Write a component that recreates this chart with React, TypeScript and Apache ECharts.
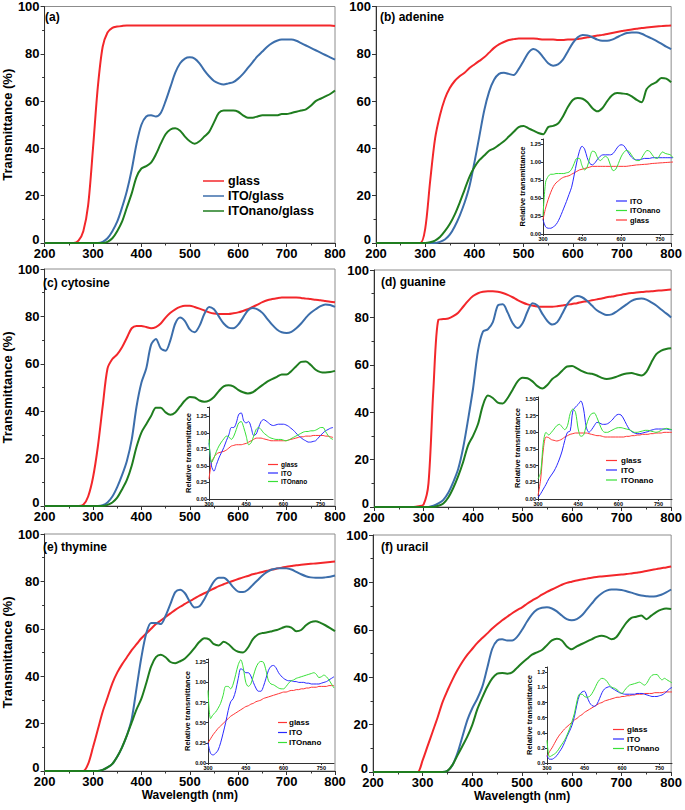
import React, { useEffect, useRef } from 'react';
import * as echarts from 'echarts';

const FONT = '"Liberation Sans", Arial, Helvetica, sans-serif';

// Wavelength samples (nm)
const MAIN_WL = [200,210,220,230,240,250,260,270,280,290,300,310,320,330,340,350,360,370,380,390,400,410,420,430,440,450,460,470,480,490,500,510,520,530,540,550,560,570,580,590,600,610,620,630,640,650,660,670,680,690,700,710,720,730,740,750,760,770,780,790,800];
const INSET_WL = [300,310,320,330,340,350,360,370,380,390,400,410,420,430,440,450,460,470,480,490,500,510,520,530,540,550,560,570,580,590,600,610,620,630,640,650,660,670,680,690,700,710,720,730,740,750,760,770,780,790,800];

// X / Y tick settings
const MAIN_X_TICKS = [200, 800, 100];
const MAIN_Y_TICKS = [0, 100, 20];

// (a)
const A_GLASS = [0,0,0,0,0,0,0,1,5,16, 40,66,83,89,91,91.5,91.8,92,92,92, 92,92,92,92,92,92,92,92,92,92, 92,92,92,92,92,92,92,92,92,92, 92,92,92,92,92,92,92,92,92,92, 92,92,92,92,92,92,92,92,92,92, 91.8];
const A_ITO = [0,0,0,0,0,0,0,0,0,0, 0,0,0.5,2,5,9,15,22,31,42, 50,53.5,54,53.5,55,60,66,72,76,78, 78.5,78,76,73,70.5,68.5,67.5,67,67.5,68, 69.5,71.5,74,76.5,79,81,83,84.5,85.5,86, 86,86,85.5,84.5,83.5,82.5,81.5,80.5,79.5,78.5, 77.5];
const A_NANO = [0,0,0,0,0,0,0,0,0,0, 0,0,0,0.5,2,5,9,15,21,28, 31.5,32.5,34,37.5,42,46,48,48.5,47.5,45, 43,42,43,45,47,51,55,56,56,56, 55.5,54,53,53,53.5,54,54,54,54,54.5, 54.5,55,55.5,56,56.5,58,60,61,62,63, 64.5];

// (b) adenine
const B_GLASS = [0,0,0,0,0,0,0,0,0,0, 6,26,44,54,61,65.5,68.5,70.5,72,74, 75.5,77,78.5,80.5,82.5,84,85,85.8,86.2,86.5, 86.5,86.5,86.5,86.3,86,86,86,85.8,85.8,86, 86,86.3,86.6,87,87.3,87.7,88,88.4,88.8,89.2, 89.6,90,90.3,90.6,90.9,91.1,91.3,91.5,91.7,91.9, 92];
const B_ITO = [0,0,0,0,0,0,0,0,0,0, 0,0,0,0.5,1.5,3.5,7,11.5,17,24, 34,45,56,64,69,71.5,72,71.5,71,73.5, 77,80.5,82,81,78.5,76,75,75.5,77.5,81, 84.5,87,88,87.8,87,86,85.5,85.5,86,87, 88,88.8,89,89,88.5,87.5,86.5,85.5,84.3,83, 82];
const B_NANO = [0,0,0,0,0,0,0,0,0,0, 0,0.3,1,2.5,5,8,12,17,22.5,28, 32,35,37,39,40,41.5,43,45,47,49, 49.5,48.5,47.5,46.5,46,49,49.5,50.5,53.5,57.5, 60.5,61.3,61,59.5,57,55.7,57,60,62.5,63.4, 63.2,63,62,60.5,59.5,65,67,68,69.8,69.5, 68];

// (c) cytosine
const C_GLASS = [0,0,0,0,0,0,0,0,0.5,4, 12,25,42,58,62,64,67,71,75,76, 76,75.5,75,75.5,77,79.5,81.5,83,84,84.5, 84.5,84,83.3,82.5,81.7,81.2,81,81,81,81.3, 81.7,82.3,83,84,85,86,86.8,87.3,87.7,88, 88,88,88,87.8,87.5,87.3,87,86.8,86.5,86.2, 86];
const C_ITO = [0,0,0,0,0,0,0,0,0,0, 0,0,0.3,1.5,4,8,13,19,28,42, 52,58,68,70.5,66.5,65.5,70,77,79.5,78, 74.5,73.3,76,81,84,83,80,77,75.3,75, 76.5,79.5,82.5,83.5,83,81.5,79,76.5,74.5,73.3, 73,73.5,75,77,79.5,81.5,83,84.3,85,84.8, 84];
const C_NANO = [0,0,0,0,0,0,0,0,0,0, 0,0,0,0.5,1.5,3.5,7,11,17,25, 31,34.5,38,41.5,41.5,39.5,38.5,39.5,42,44.5, 46,45.8,44.5,44,44.5,46,48.5,50.5,51,50.5, 49,48,47.5,48,49.5,51,52.5,53.5,54.5,55.5, 55.5,57,59,60.8,61,59.5,57.5,56.5,56.3,56.5, 57];

// (d) guanine
const D_GLASS = [0,0,0,0,0,0,0,0,0,0.3, 1,10,50,79,79.3,79.5,80.5,82,84.5,87, 89,90.2,90.8,91,91,90.8,90.3,89.5,88.5,87.3, 86.3,85.5,85,84.6,84.5,84.5,84.5,84.7,85,85.3, 85.7,86,86.5,86.8,87.2,87.6,88,88.5,88.8,89.2, 89.6,90,90.3,90.5,90.7,90.9,91,91.2,91.4,91.6, 91.8];
const D_ITO = [0,0,0,0,0,0,0,0,0,0, 0,0,0.5,1.5,3,6,10.5,16,25,37, 50,66,74,75,78,85,85.5,82,77.5,75.5, 77.5,82.5,86,85,81.5,78.5,77,78,81.5,85.5, 88,89,88.5,87,85,83,81.8,81,81.3,82.5, 84,85.5,87,87.8,88,87.5,86.3,85,83.3,81.7, 80];
const D_NANO = [0,0,0,0,0,0,0,0,0,0, 0,0,0,0.5,1.5,4,8,13,19,26, 30,35,43,47,46,44,43.7,46,49.5,53, 54.5,54.3,53,51,50,51.5,54,55.5,57.5,59.3, 59.5,58.5,57.3,56.5,56.2,55.5,54.5,54,54.3,55, 55.8,56.3,56.5,56,55.5,57,61,64.5,66,66.7, 67];

// (e) thymine
const E_GLASS = [0,0,0,0,0,0,0,0,0,3, 10,17.5,25,31,37,41.5,45,48,51,53.5, 56,58,60,62,63.5,65,66.5,68,69.3,70.5, 71.7,72.8,74,75,76,77,78,78.8,79.6,80.3, 81,81.7,82.3,83,83.5,84,84.5,85,85.4,85.8, 86.2,86.5,86.8,87,87.2,87.4,87.6,87.8,88,88.2, 88.4];
const E_ITO = [0,0,0,0,0,0,0,0,0,0, 0,0,0.5,1.5,3,6,10,15,22,35, 48,58,62.5,62.5,62,65.5,70.5,75.5,76.5,75, 71.5,69,69.5,72.5,76.5,80,81.5,81.5,80,77.5, 75.7,75.5,76.5,78.5,80.5,82.5,84,85,85.5,85.6, 85.5,85,84,83,82.2,81.7,81.5,81.5,81.7,82, 82.5];
const E_NANO = [0,0,0,0,0,0,0,0,0,0, 0,0,0.5,1.5,3,6,10,15,20.5,26, 30.5,37,44,48,49,48,46,45.5,46.3,47.5, 49.5,52,54.5,56,55.5,53.5,53,54.5,53.5,51.5, 50.3,50,52,55.5,57.5,58.2,58.5,59,59.5,60.3, 61,60.5,59,59.5,61.5,62.8,63.2,62.5,61.5,60.3, 59];

// (f) uracil
const F_GLASS = [0,0,0,0,0,0,0,0,0,0, 5,11,17,23,29.5,34.5,39,43,46.5,49.5, 52,54.5,56.5,58.5,60.5,62.3,64,65.5,67,68.3, 69.5,71,72.3,73.5,74.8,76,77,78,79,79.8, 80.3,80.8,81.2,81.6,82,82.3,82.5,82.7,82.9,83.1, 83.3,83.5,83.8,84.1,84.4,84.8,85.2,85.6,86,86.3, 86.7];
const F_ITO = [0,0,0,0,0,0,0,0,0,0, 0,0,0,0,0,0.5,3,8,15,22, 27,31,36,44,52,55.5,56,55.5,55.5,57, 60,63.5,66.5,68.5,69.3,69.5,69,67.8,66,64.5, 64,64.5,66,68.5,71,73.5,75.3,76.5,77,77, 76.8,76.3,75.7,75,74.5,74.2,74,74.2,74.8,75.8, 77];
const F_NANO = [0,0,0,0,0,0,0,0,0,0, 0,0,0,0,0,0.5,3,7,11,15, 20,26.5,31.5,36,39.5,41.5,41.8,41.5,42,44, 46,47.8,49.5,50.5,51.5,53.5,55.5,56.2,55.5,53, 51.8,53,54,55,56,57,57.5,57,56,57, 60,63,65,65.5,66,64.5,66,67.5,68.5,69, 68.8];

// Insets: relative transmittance
const IB_GLASS = [0.2,0.36,0.48,0.58,0.66,0.71,0.74,0.77,0.79,0.8, 0.81,0.83,0.85,0.87,0.89,0.9,0.91,0.92,0.93,0.94, 0.94,0.94,0.94,0.94,0.94,0.94,0.94,0.94,0.94,0.94, 0.94,0.94,0.94,0.945,0.95,0.955,0.96,0.962,0.965,0.968, 0.97,0.975,0.98,0.982,0.985,0.988,0.99,0.993,0.995,0.998, 1.0];
const IB_ITO = [0.2,0.1,0.08,0.08,0.1,0.13,0.19,0.27,0.36,0.45, 0.55,0.65,0.82,1.0,1.15,1.22,1.18,1.06,0.98,0.96, 0.99,1.04,1.08,1.1,1.1,1.1,1.1,1.12,1.17,1.22, 1.24,1.23,1.18,1.12,1.07,1.04,1.03,1.03,1.04,1.05, 1.05,1.05,1.06,1.06,1.06,1.06,1.06,1.06,1.06,1.06, 1.06];
const IB_NANO = [0.25,0.72,0.8,0.83,0.83,0.84,0.84,0.84,0.84,0.85, 0.86,0.9,0.98,1.05,1.05,0.95,0.89,0.93,1.06,1.15, 1.14,1.06,1.02,1.05,1.08,1.05,0.95,0.88,0.9,0.98, 1.07,1.13,1.16,1.15,1.1,1.05,1.02,1.02,1.06,1.12, 1.16,1.15,1.1,1.06,1.05,1.1,1.14,1.12,1.11,1.1, 1.06];

const IC_GLASS = [0.3,0.55,0.63,0.68,0.7,0.71,0.72,0.74,0.77,0.8, 0.81,0.82,0.82,0.82,0.83,0.84,0.86,0.88,0.9,0.92, 0.92,0.92,0.91,0.9,0.89,0.88,0.88,0.88,0.88,0.88, 0.88,0.88,0.89,0.9,0.91,0.92,0.93,0.94,0.94,0.95, 0.95,0.95,0.96,0.96,0.96,0.96,0.96,0.95,0.95,0.94, 0.93];
const IC_ITO = [0.85,0.5,0.42,0.52,0.62,0.7,0.78,0.88,0.97,1.08, 1.08,1.15,1.28,1.3,1.18,1.15,1.17,1.08,0.96,0.98, 1.08,1.17,1.2,1.18,1.15,1.12,1.11,1.12,1.13,1.13, 1.13,1.12,1.1,1.07,1.04,1.0,0.96,0.93,0.9,0.88, 0.86,0.86,0.87,0.88,0.92,0.96,1.0,1.03,1.05,1.07, 1.08];
const IC_NANO = [0.9,0.55,0.62,0.72,0.8,0.86,0.91,0.95,0.94,0.9, 0.95,1.05,1.15,1.17,1.08,0.95,0.82,0.85,0.95,1.05, 1.08,1.05,1.0,0.97,0.94,0.92,0.91,0.9,0.9,0.9, 0.89,0.88,0.89,0.91,0.93,0.95,0.97,0.99,1.01,1.02, 1.02,1.03,1.03,1.04,1.06,1.08,1.08,1.02,0.96,0.92, 0.9];

const ID_GLASS = [0.05,0.3,0.75,0.93,0.92,0.89,0.88,0.87,0.88,0.9, 0.93,0.95,0.97,0.98,0.99,0.99,0.99,0.99,0.99,0.98, 0.97,0.96,0.95,0.95,0.94,0.93,0.93,0.93,0.93,0.93, 0.93,0.93,0.93,0.94,0.94,0.95,0.95,0.96,0.96,0.97, 0.97,0.97,0.98,0.98,0.99,0.99,0.99,1.0,1.0,1.0, 1.0];
const ID_ITO = [0.02,0.08,0.15,0.22,0.3,0.36,0.42,0.5,0.6,0.72, 0.88,1.0,1.02,1.32,1.38,1.42,1.47,1.35,1.08,1.0, 1.04,1.1,1.15,1.14,1.12,1.12,1.13,1.16,1.2,1.25, 1.27,1.26,1.2,1.12,1.05,1.01,0.99,0.98,0.98,0.99, 1.0,1.01,1.03,1.04,1.05,1.05,1.05,1.05,1.05,1.04, 1.04];
const ID_NANO = [0.3,0.4,0.85,1.0,0.96,1.0,1.05,1.1,1.12,1.08, 1.04,1.1,1.28,1.35,1.3,1.05,0.94,0.96,1.1,1.22, 1.28,1.29,1.22,1.12,1.03,1.0,1.0,1.02,1.04,1.06, 1.07,1.07,1.06,1.05,1.04,1.02,1.0,1.0,1.01,1.02, 1.03,1.03,1.02,1.01,1.0,1.01,1.03,1.05,1.06,1.05, 1.04];

const IE_GLASS = [0.25,0.3,0.35,0.39,0.43,0.46,0.49,0.52,0.55,0.58, 0.6,0.62,0.64,0.66,0.68,0.7,0.71,0.73,0.74,0.76, 0.77,0.78,0.8,0.81,0.82,0.83,0.84,0.85,0.86,0.87, 0.88,0.88,0.89,0.9,0.9,0.91,0.91,0.92,0.92,0.93, 0.93,0.94,0.94,0.94,0.95,0.95,0.95,0.95,0.96,0.96, 0.96];
const IE_ITO = [0.25,0.12,0.1,0.12,0.16,0.25,0.37,0.5,0.65,0.76, 0.8,0.9,1.05,1.17,1.15,1.12,1.12,1.08,1.0,0.93, 0.89,0.89,0.95,1.05,1.15,1.2,1.21,1.18,1.12,1.08, 1.05,1.03,1.02,1.02,1.01,1.01,1.0,1.0,1.0,0.99, 0.99,0.98,0.98,0.98,0.98,0.99,1.0,1.01,1.03,1.05, 1.07];
const IE_NANO = [0.9,0.55,0.6,0.63,0.68,0.74,0.84,0.95,0.95,0.92, 0.98,1.1,1.22,1.28,1.18,1.0,0.95,0.98,1.08,1.18, 1.24,1.26,1.25,1.15,1.02,0.98,0.97,0.95,0.93,0.92, 0.92,0.95,0.99,1.02,1.03,1.05,1.06,1.07,1.08,1.09, 1.1,1.11,1.12,1.1,1.06,1.07,1.09,1.07,1.03,0.98, 0.93];

const IF_GLASS = [0.08,0.15,0.2,0.26,0.32,0.37,0.41,0.45,0.48,0.51, 0.54,0.57,0.59,0.62,0.64,0.67,0.69,0.71,0.73,0.75, 0.77,0.79,0.8,0.82,0.83,0.84,0.85,0.86,0.87,0.87, 0.88,0.88,0.89,0.89,0.9,0.9,0.91,0.91,0.91,0.92, 0.92,0.92,0.92,0.93,0.93,0.93,0.93,0.94,0.94,0.94, 0.94];
const IF_ITO = [0.1,0.05,0.05,0.07,0.1,0.15,0.2,0.27,0.35,0.42, 0.5,0.62,0.78,0.9,0.94,0.95,0.88,0.8,0.76,0.75, 0.78,0.85,0.93,0.98,1.0,1.01,0.99,0.97,0.95,0.93, 0.92,0.91,0.91,0.91,0.91,0.91,0.92,0.92,0.92,0.91, 0.9,0.89,0.88,0.88,0.88,0.89,0.9,0.92,0.95,0.98, 1.0];
const IF_NANO = [0.3,0.08,0.1,0.12,0.15,0.2,0.25,0.3,0.37,0.45, 0.55,0.66,0.82,0.91,0.91,0.88,0.87,0.88,0.92,0.98, 1.05,1.1,1.12,1.11,1.08,1.03,1.0,0.99,0.97,0.94, 0.92,0.96,1.0,1.03,1.04,1.05,1.06,1.07,1.05,1.03, 1.06,1.12,1.16,1.17,1.17,1.13,1.1,1.12,1.1,1.08, 1.06];

const MAIN_NAMES = ['glass', 'ITO/glass', 'ITOnano/glass'];
const INSET_NAMES = ['glass', 'ITO', 'ITOnano'];
const MAIN_COLORS = ['#f3272b', '#3c6eab', '#1f7d1f'];
const INSET_COLORS = ['#ff3535', '#2a2aff', '#38e038'];

type Inset = {
  grid: { left: number; top: number; width: number; height: number };
  ymax: number; yint: number; digits: number;
  data: number[][];
  order: string[];
  legend: { x1: number; x2: number; tx: number; ys: number[]; fs: number };
};
type Panel = {
  title: string; tx: number; ty: number;
  grid: { left: number; top: number; width: number; height: number };
  yName: boolean; xName: boolean;
  data: number[][];
  inset: Inset | null;
};

const PANELS: Panel[] = [
  { title: '(a)', tx: 45, ty: 17, grid: { left: 36, top: 6, width: 299, height: 237 }, yName: true, xName: false,
    data: [A_GLASS, A_ITO, A_NANO], inset: null },
  { title: '(b) adenine', tx: 380, ty: 17, grid: { left: 376, top: 6, width: 299, height: 237 }, yName: false, xName: false,
    data: [B_GLASS, B_ITO, B_NANO],
    inset: { grid: { left: 543, top: 139, width: 130, height: 95 }, ymax: 1.32, yint: 0.25, digits: 2,
      data: [IB_GLASS, IB_ITO, IB_NANO], order: ['ITO', 'ITOnano', 'glass'],
      legend: { x1: 616, x2: 627, tx: 630, ys: [201, 210.5, 220], fs: 7.5 } } },
  { title: '(c) cytosine', tx: 43, ty: 283, grid: { left: 36, top: 269, width: 299, height: 237 }, yName: true, xName: false,
    data: [C_GLASS, C_ITO, C_NANO],
    inset: { grid: { left: 209, top: 407, width: 124, height: 92 }, ymax: 1.39, yint: 0.25, digits: 2,
      data: [IC_GLASS, IC_ITO, IC_NANO], order: ['glass', 'ITO', 'ITOnano'],
      legend: { x1: 268, x2: 278, tx: 281, ys: [464.5, 473, 481.5], fs: 6.5 } } },
  { title: '(d) guanine', tx: 381, ty: 282, grid: { left: 374, top: 270, width: 299, height: 237 }, yName: false, xName: false,
    data: [D_GLASS, D_ITO, D_NANO],
    inset: { grid: { left: 538, top: 397, width: 134, height: 102 }, ymax: 1.53, yint: 0.25, digits: 2,
      data: [ID_GLASS, ID_ITO, ID_NANO], order: ['glass', 'ITO', 'ITOnano'],
      legend: { x1: 606, x2: 617, tx: 621, ys: [460.5, 470, 480], fs: 8 } } },
  { title: '(e) thymine', tx: 43, ty: 547, grid: { left: 36, top: 534, width: 299, height: 237 }, yName: true, xName: true,
    data: [E_GLASS, E_ITO, E_NANO],
    inset: { grid: { left: 208, top: 659, width: 126, height: 104 }, ymax: 1.29, yint: 0.25, digits: 2,
      data: [IE_GLASS, IE_ITO, IE_NANO], order: ['glass', 'ITO', 'ITOnano'],
      legend: { x1: 278, x2: 287, tx: 289, ys: [722.5, 732.5, 742.5], fs: 8 } } },
  { title: '(f) uracil', tx: 381, ty: 547, grid: { left: 373, top: 535, width: 300, height: 237 }, yName: false, xName: true,
    data: [F_GLASS, F_ITO, F_NANO],
    inset: { grid: { left: 547, top: 667, width: 125, height: 96 }, ymax: 1.27, yint: 0.2, digits: 1,
      data: [IF_GLASS, IF_ITO, IF_NANO], order: ['glass', 'ITO', 'ITOnano'],
      legend: { x1: 613, x2: 624, tx: 627, ys: [729.5, 739, 748.5], fs: 8 } } },
];

const zip = (xs: number[], ys: number[]) => xs.map((x, i) => [x, ys[i]]);

function buildOption() {
  const grid: any[] = [];
  const xAxis: any[] = [];
  const yAxis: any[] = [];
  const series: any[] = [];
  const graphic: any[] = [];
  const axisColor = '#333';
  const labelBase = { fontSize: 13, fontWeight: 'bold', color: '#000', fontFamily: FONT };

  PANELS.forEach((p) => {
    const gi = grid.length;
    grid.push({ ...p.grid, show: true, borderColor: '#8c8c8c', borderWidth: 1, backgroundColor: 'transparent' });
    xAxis.push({
      gridIndex: gi, type: 'value', min: MAIN_X_TICKS[0], max: MAIN_X_TICKS[1], interval: MAIN_X_TICKS[2],
      axisLine: { show: true, onZero: false, lineStyle: { color: axisColor, width: 1 } },
      axisTick: { show: true, length: 4, lineStyle: { color: axisColor } },
      minorTick: { show: true, splitNumber: 2, length: 2.5, lineStyle: { color: axisColor } },
      splitLine: { show: false },
      axisLabel: { ...labelBase, margin: 4 },
      name: p.xName ? 'Wavelength (nm)' : '', nameLocation: 'middle', nameGap: 17,
      nameTextStyle: { fontSize: 12, fontWeight: 'bold', color: '#000', fontFamily: FONT },
    });
    yAxis.push({
      gridIndex: gi, type: 'value', min: MAIN_Y_TICKS[0], max: MAIN_Y_TICKS[1], interval: MAIN_Y_TICKS[2],
      axisLine: { show: true, onZero: false, lineStyle: { color: axisColor, width: 1 } },
      axisTick: { show: true, length: 4, lineStyle: { color: axisColor } },
      minorTick: { show: true, splitNumber: 2, length: 2.5, lineStyle: { color: axisColor } },
      splitLine: { show: false },
      axisLabel: {
        ...labelBase, margin: 5,
        formatter: (v: number) => (v === 0 ? '{z|0}' : String(v)),
        rich: { z: { ...labelBase, padding: [0, 0, 8, 0] } },
      },
      name: p.yName ? 'Transmittance (%)' : '', nameLocation: 'middle', nameGap: 22,
      nameTextStyle: { fontSize: 13, fontWeight: 'bold', color: '#000', fontFamily: FONT },
    });
    p.data.forEach((vals, k) => {
      series.push({
        type: 'line', name: MAIN_NAMES[k], xAxisIndex: gi, yAxisIndex: gi,
        data: zip(MAIN_WL, vals), showSymbol: false, symbol: 'none', smooth: 0.3,
        lineStyle: { color: MAIN_COLORS[k], width: 2 }, itemStyle: { color: MAIN_COLORS[k] },
        z: 3 + k, silent: true,
      });
    });
    graphic.push({ type: 'text', x: p.tx, y: p.ty, z: 20,
      style: { text: p.title, fill: '#000', fontSize: 12, fontWeight: 'bold', fontFamily: FONT, verticalAlign: 'middle' } });

    if (p.inset) {
      const ins = p.inset;
      const ii = grid.length;
      grid.push({ ...ins.grid, show: false });
      xAxis.push({
        gridIndex: ii, type: 'value', min: 300, max: 800, interval: 150,
        axisLine: { show: true, onZero: false, lineStyle: { color: axisColor, width: 1 } },
        axisTick: { show: true, length: 2, lineStyle: { color: axisColor } },
        splitLine: { show: false },
        axisLabel: { fontSize: 5.5, fontWeight: 'bold', color: '#000', margin: 2, fontFamily: FONT, showMaxLabel: false },
      });
      yAxis.push({
        gridIndex: ii, type: 'value', min: 0, max: ins.ymax, interval: ins.yint,
        axisLine: { show: true, onZero: false, lineStyle: { color: axisColor, width: 1 } },
        axisTick: { show: true, length: 2, lineStyle: { color: axisColor } },
        splitLine: { show: false },
        axisLabel: {
          fontSize: 5.5, fontWeight: 'bold', color: '#000', margin: 2, fontFamily: FONT,
          formatter: (v: number) => {
            const r = v / ins.yint;
            return Math.abs(r - Math.round(r)) < 1e-6 ? v.toFixed(ins.digits) : '';
          },
        },
        name: 'Relative transmittance', nameLocation: 'middle', nameGap: 14,
        nameTextStyle: { fontSize: 7.5, fontWeight: 'bold', color: '#000', fontFamily: FONT },
      });
      ins.data.forEach((vals, k) => {
        series.push({
          type: 'line', name: INSET_NAMES[k], xAxisIndex: ii, yAxisIndex: ii,
          data: zip(INSET_WL, vals), showSymbol: false, symbol: 'none', smooth: 0.3,
          lineStyle: { color: INSET_COLORS[k], width: 1 }, itemStyle: { color: INSET_COLORS[k] },
          z: 10 + k, silent: true,
        });
      });
      ins.order.forEach((nm, r) => {
        const k = INSET_NAMES.indexOf(nm);
        const y = ins.legend.ys[r];
        graphic.push({ type: 'line', shape: { x1: ins.legend.x1, y1: y, x2: ins.legend.x2, y2: y },
          style: { stroke: INSET_COLORS[k], lineWidth: 1.2 }, z: 20 });
        graphic.push({ type: 'text', x: ins.legend.tx, y, z: 20,
          style: { text: nm, fill: '#000', fontSize: ins.legend.fs, fontWeight: 'bold', fontFamily: FONT, verticalAlign: 'middle' } });
      });
    }
  });

  // legend of panel (a)
  const LEG_A = { x1: 203, x2: 224, tx: 228, ys: [181, 196, 211] };
  MAIN_NAMES.forEach((nm, k) => {
    const y = LEG_A.ys[k];
    graphic.push({ type: 'line', shape: { x1: LEG_A.x1, y1: y, x2: LEG_A.x2, y2: y },
      style: { stroke: MAIN_COLORS[k], lineWidth: 1.5 }, z: 20 });
    graphic.push({ type: 'text', x: LEG_A.tx, y, z: 20,
      style: { text: nm, fill: '#000', fontSize: 12.5, fontWeight: 'bold', fontFamily: FONT, verticalAlign: 'middle' } });
  });

  return {
    animation: false,
    backgroundColor: '#fff',
    textStyle: { fontFamily: FONT },
    grid, xAxis, yAxis, series, graphic,
  };
}

export default function App() {
  const ref = useRef<HTMLDivElement>(null);
  useEffect(() => {
    if (!ref.current) return;
    const chart = echarts.init(ref.current, null, { renderer: 'svg' });
    chart.setOption(buildOption() as any);
    return () => chart.dispose();
  }, []);
  return (
    <div
      ref={ref}
      style={{ position: 'fixed', left: 0, top: 0, width: 685, height: 810, background: '#fff' }}
    />
  );
}
